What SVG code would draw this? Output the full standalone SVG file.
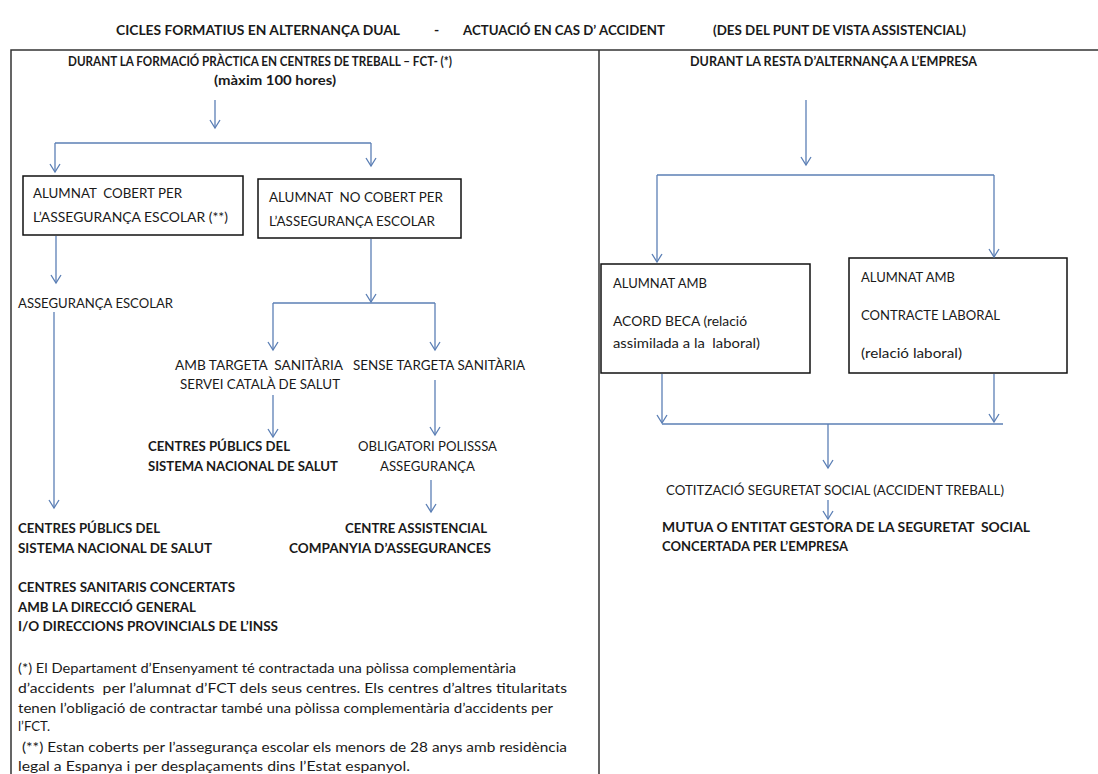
<svg xmlns="http://www.w3.org/2000/svg" width="1098" height="774" viewBox="0 0 1098 774">
<style>
  text { font-family: Lato, "Liberation Sans", sans-serif; fill: #1a1a1a; white-space: pre; }
  .t { font-size: 14px; font-weight: bold; }
  .h { font-size: 14px; font-weight: bold; }
  .r { font-size: 14px; }
  .b { font-size: 14px; font-weight: bold; }
  .n { font-size: 14px; }
  .box { fill: #ffffff; stroke: #111111; stroke-width: 1.5; }
  .frame { fill: none; stroke: #333333; stroke-width: 1.5; }
  .c { fill: none; stroke: #5b7fb5; stroke-width: 1.3; }
  .a { fill: none; stroke: #5b7fb5; stroke-width: 1.3; marker-end: url(#arr); }
</style>
<defs>
  <marker id="arr" viewBox="-10 -7 12 14" refX="0" refY="0" markerWidth="12" markerHeight="14" markerUnits="userSpaceOnUse" orient="auto">
    <path d="M-8,-5 L0,0 L-8,5" fill="none" stroke="#5b7fb5" stroke-width="1.3"/>
  </marker>
</defs>
<rect width="1098" height="774" fill="#ffffff"/>

<g id="title">
  <text class="t" x="116" y="35" textLength="284" lengthAdjust="spacingAndGlyphs">CICLES FORMATIUS EN ALTERNANÇA DUAL</text>
  <text class="t" x="434" y="35">-</text>
  <text class="t" x="463" y="35" textLength="202" lengthAdjust="spacingAndGlyphs">ACTUACIÓ EN CAS D’ ACCIDENT</text>
  <text class="t" x="713" y="35" textLength="253" lengthAdjust="spacingAndGlyphs">(DES DEL PUNT DE VISTA ASSISTENCIAL)</text>
</g>

<g id="frame">
  <path class="frame" d="M11,774 V50 H1098 M599,50 V774"/>
</g>

<g id="header-fct">
  <text class="h" x="68" y="66" textLength="384" lengthAdjust="spacingAndGlyphs">DURANT LA FORMACIÓ PRÀCTICA EN CENTRES DE TREBALL – FCT- (*)</text>
  <text class="h" x="214" y="85" textLength="122" lengthAdjust="spacingAndGlyphs">(màxim 100 hores)</text>
</g>
<g id="header-empresa">
  <text class="h" x="690" y="66" textLength="287" lengthAdjust="spacingAndGlyphs">DURANT LA RESTA D’ALTERNANÇA A L’EMPRESA</text>
</g>

<g id="box-cobert">
  <rect class="box" x="23" y="176" width="220" height="59"/>
  <text class="r" x="33" y="198" textLength="149" lengthAdjust="spacingAndGlyphs">ALUMNAT  COBERT PER</text>
  <text class="r" x="33" y="222" textLength="195" lengthAdjust="spacingAndGlyphs">L’ASSEGURANÇA ESCOLAR (**)</text>
</g>
<g id="box-nocobert">
  <rect class="box" x="258" y="179" width="203" height="59"/>
  <text class="r" x="269" y="202" textLength="174" lengthAdjust="spacingAndGlyphs">ALUMNAT  NO COBERT PER</text>
  <text class="r" x="269" y="226" textLength="166" lengthAdjust="spacingAndGlyphs">L’ASSEGURANÇA ESCOLAR</text>
</g>
<g id="assegurança-escolar">
  <text class="r" x="18" y="308" textLength="155" lengthAdjust="spacingAndGlyphs">ASSEGURANÇA ESCOLAR</text>
</g>
<g id="amb-targeta">
  <text class="r" x="175" y="370" textLength="168" lengthAdjust="spacingAndGlyphs">AMB TARGETA  SANITÀRIA</text>
  <text class="r" x="180" y="389" textLength="160" lengthAdjust="spacingAndGlyphs">SERVEI CATALÀ DE SALUT</text>
</g>
<g id="sense-targeta">
  <text class="r" x="353" y="370" textLength="172" lengthAdjust="spacingAndGlyphs">SENSE TARGETA SANITÀRIA</text>
</g>
<g id="centres-publics-1">
  <text class="b" x="148" y="451" textLength="142" lengthAdjust="spacingAndGlyphs">CENTRES PÚBLICS DEL</text>
  <text class="b" x="148" y="471" textLength="190" lengthAdjust="spacingAndGlyphs">SISTEMA NACIONAL DE SALUT</text>
</g>
<g id="obligatori">
  <text class="r" x="358" y="451" textLength="139" lengthAdjust="spacingAndGlyphs">OBLIGATORI POLISSSA</text>
  <text class="r" x="380" y="471" textLength="95" lengthAdjust="spacingAndGlyphs">ASSEGURANÇA</text>
</g>
<g id="centres-publics-2">
  <text class="b" x="18" y="533" textLength="142" lengthAdjust="spacingAndGlyphs">CENTRES PÚBLICS DEL</text>
  <text class="b" x="18" y="553" textLength="194" lengthAdjust="spacingAndGlyphs">SISTEMA NACIONAL DE SALUT</text>
  <text class="b" x="18" y="592" textLength="217" lengthAdjust="spacingAndGlyphs">CENTRES SANITARIS CONCERTATS</text>
  <text class="b" x="18" y="612" textLength="178" lengthAdjust="spacingAndGlyphs">AMB LA DIRECCIÓ GENERAL</text>
  <text class="b" x="18" y="631" textLength="260" lengthAdjust="spacingAndGlyphs">I/O DIRECCIONS PROVINCIALS DE L’INSS</text>
</g>
<g id="centre-assistencial">
  <text class="b" x="345" y="533" textLength="142" lengthAdjust="spacingAndGlyphs">CENTRE ASSISTENCIAL</text>
  <text class="b" x="289" y="553" textLength="202" lengthAdjust="spacingAndGlyphs">COMPANYIA D’ASSEGURANCES</text>
</g>
<g id="notes">
  <text class="n" x="18" y="673" textLength="498" lengthAdjust="spacingAndGlyphs">(*) El Departament d’Ensenyament té contractada una pòlissa complementària</text>
  <text class="n" x="18" y="693" textLength="549" lengthAdjust="spacingAndGlyphs">d’accidents  per l’alumnat d’FCT dels seus centres. Els centres d’altres titularitats</text>
  <text class="n" x="18" y="713" textLength="535" lengthAdjust="spacingAndGlyphs">tenen l’obligació de contractar també una pòlissa complementària d’accidents per</text>
  <text class="n" x="18" y="731" textLength="32" lengthAdjust="spacingAndGlyphs">l’FCT.</text>
  <text class="n" x="18" y="752" textLength="549" lengthAdjust="spacingAndGlyphs"> (**) Estan coberts per l’assegurança escolar els menors de 28 anys amb residència</text>
  <text class="n" x="18" y="771" textLength="392" lengthAdjust="spacingAndGlyphs">legal a Espanya i per desplaçaments dins l’Estat espanyol.</text>
</g>

<g id="box-beca">
  <rect class="box" x="601" y="264" width="209" height="109"/>
  <text class="r" x="613" y="288" textLength="94" lengthAdjust="spacingAndGlyphs">ALUMNAT AMB</text>
  <text class="r" x="613" y="326" textLength="134" lengthAdjust="spacingAndGlyphs">ACORD BECA (relació</text>
  <text class="r" x="613" y="348" textLength="147" lengthAdjust="spacingAndGlyphs">assimilada a la  laboral)</text>
</g>
<g id="box-contracte">
  <rect class="box" x="849" y="258" width="218" height="115"/>
  <text class="r" x="861" y="282" textLength="94" lengthAdjust="spacingAndGlyphs">ALUMNAT AMB</text>
  <text class="r" x="861" y="320" textLength="139" lengthAdjust="spacingAndGlyphs">CONTRACTE LABORAL</text>
  <text class="r" x="861" y="358" textLength="101" lengthAdjust="spacingAndGlyphs">(relació laboral)</text>
</g>
<g id="cotitzacio">
  <text class="r" x="666" y="495" textLength="338" lengthAdjust="spacingAndGlyphs">COTITZACIÓ SEGURETAT SOCIAL (ACCIDENT TREBALL)</text>
</g>
<g id="mutua">
  <text class="b" x="662" y="532" textLength="368" lengthAdjust="spacingAndGlyphs">MUTUA O ENTITAT GESTORA DE LA SEGURETAT  SOCIAL</text>
  <text class="b" x="662" y="551" textLength="186" lengthAdjust="spacingAndGlyphs">CONCERTADA PER L’EMPRESA</text>
</g>

<g id="connectors">
  <path class="a" d="M215,100 V128"/>
  <path class="c" d="M55,143 H371"/>
  <path class="a" d="M55,143 V172"/>
  <path class="a" d="M371,143 V166"/>
  <path class="a" d="M56,236 V283"/>
  <path class="a" d="M54,312 V508"/>
  <path class="a" d="M371,239 V302"/>
  <path class="c" d="M273,303 H435"/>
  <path class="a" d="M273,303 V350"/>
  <path class="a" d="M435,303 V350"/>
  <path class="a" d="M273,395 V437"/>
  <path class="a" d="M435,380 V435"/>
  <path class="a" d="M431,480 V512"/>

  <path class="a" d="M806,100 V165"/>
  <path class="c" d="M657,175 H994"/>
  <path class="a" d="M657,175 V262"/>
  <path class="a" d="M994,175 V257"/>
  <path class="a" d="M662,374 V423"/>
  <path class="a" d="M994,374 V422"/>
  <path class="c" d="M662,424 H1003"/>
  <path class="a" d="M828,424 V468"/>
  <path class="a" d="M828,500 V519"/>
</g>
</svg>
